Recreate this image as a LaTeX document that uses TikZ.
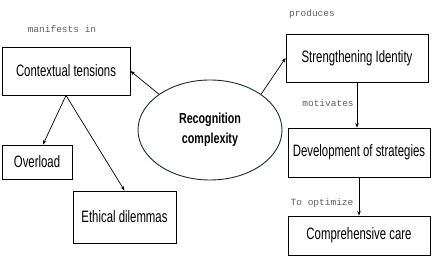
\documentclass[tikz,border=0pt]{standalone}
\usepackage{fontspec}
\usetikzlibrary{arrows.meta,shapes.geometric}
\newfontfamily\boxfont[FakeStretch=0.69]{Liberation Sans}
\newfontfamily\ringfont[FakeStretch=0.74]{Liberation Sans}
\newfontfamily\tagfont{Liberation Mono}
\definecolor{ringC}{RGB}{26,40,62}
\definecolor{tagC}{RGB}{95,95,95}

\begin{document}
\begin{tikzpicture}[
    x=1pt, y=-1pt,
    box/.style={rectangle, draw=black, line width=0.9pt, inner sep=0pt,
                font=\boxfont\fontsize{16.5}{18}\selectfont},
    ring/.style={ellipse, draw=ringC, line width=0.9pt, inner sep=0pt,
                 minimum width=144pt, minimum height=100pt, align=center,
                 font=\ringfont\bfseries\fontsize{14.5}{20}\selectfont},
    arr/.style={draw=black, line width=0.7pt, -{Stealth[length=4.5pt,width=3.5pt]}},
    tag/.style={font=\tagfont\fontsize{9.5}{10}\selectfont, text=tagC},
  ]
  \useasboundingbox (0,0) rectangle (433,261);

  % central node
  \node[ring] (rec) at (210,130) {Recognition\\complexity};

  %% left branch
  \node[box, minimum width=128pt, minimum height=48pt] (ctx) at (66,71)  {Contextual tensions};
  \node[box, minimum width=70pt,  minimum height=34pt] (ovl) at (37,162) {Overload};
  \node[box, minimum width=103pt, minimum height=52pt] (eth) at (124.5,217) {Ethical dilemmas};
  \node[tag] (tmani) at (62,29) {manifests in};

  %% right branch
  \node[box, minimum width=142pt, minimum height=48pt] (sid)  at (357,58)    {Strengthening Identity};
  \node[box, minimum width=142pt, minimum height=49pt] (dev)  at (359,152.5) {Development of strategies};
  \node[box, minimum width=142pt, minimum height=39pt] (care) at (359,235.5) {Comprehensive care};
  \node[tag] (tprod) at (312,14)  {produces};
  \node[tag] (tmoti) at (328,103) {motivates};
  \node[tag] (topti) at (322,203) {To optimize};

  % connectors
  \draw[arr] (rec.145) -- (ctx.east);
  \draw[arr] (rec.35) -- (sid.west);
  \draw[arr] (ctx.south) -- ([xshift=6pt]ovl.north);
  \draw[arr] (ctx.south) -- (eth.north);
  \draw[arr] (sid.south) -- (sid.south |- dev.north);
  \draw[arr] (dev.south) -- (care.north);
\end{tikzpicture}
\end{document}
